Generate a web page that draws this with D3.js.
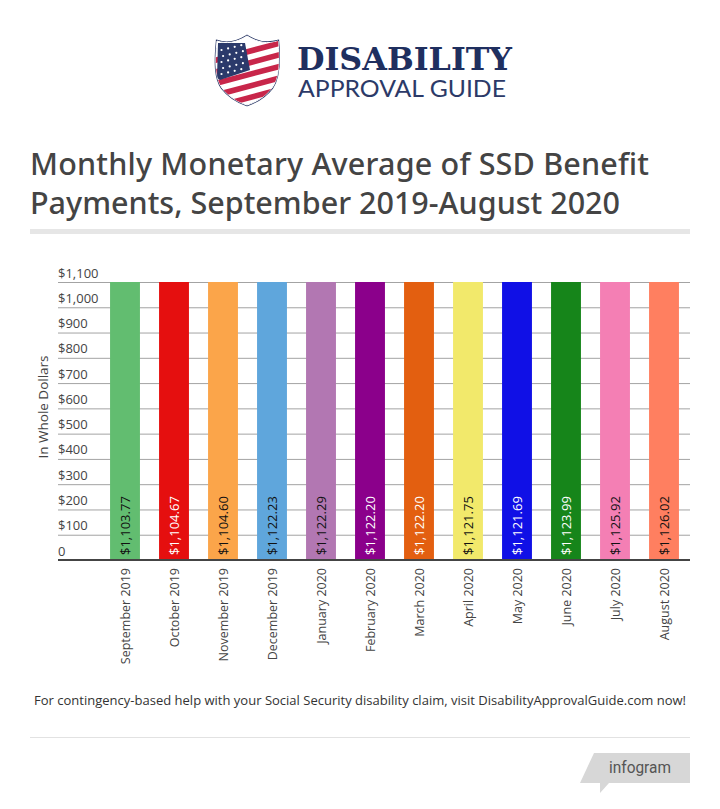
<!DOCTYPE html>
<html>
<head>
<meta charset="utf-8">
<script src="https://cdn.jsdelivr.net/npm/d3@7"></script>
<style>
  html, body { margin: 0; padding: 0; background: #fff; }
  svg { display: block; }
  text { font-family: "Open Sans", sans-serif; }
</style>
</head>
<body>
<svg id="chart" width="720" height="809"></svg>
<script>
const months = ['September 2019', 'October 2019', 'November 2019', 'December 2019', 'January 2020', 'February 2020',
  'March 2020', 'April 2020', 'May 2020', 'June 2020', 'July 2020', 'August 2020'];
const payments = [1103.77, 1104.67, 1104.60, 1122.23, 1122.29, 1122.20, 1122.20, 1121.75, 1121.69, 1123.99, 1125.92, 1126.02];
const barColors = ['#62bd70', '#e50f0f', '#fba54a', '#5fa6dc', '#b277b2', '#8b008b',
  '#e35f10', '#f2e96b', '#1010e6', '#16851a', '#f47fb4', '#ff7f60'];
const labelColors = ['#111', '#fff', '#111', '#111', '#111', '#fff', '#fff', '#111', '#fff', '#fff', '#111', '#111'];
const yTicks = [0, 100, 200, 300, 400, 500, 600, 700, 800, 900, 1000, 1100];
const titleLines = ['Monthly Monetary Average of SSD Benefit', 'Payments, September 2019-August 2020'];
const titleWidths = [619, 590];

const svg = d3.select('#chart');
const TEXT = '#444444';

// Logo
const logo = svg.append('g');
const shield = 'M217 41 C226 44 236 43 247 36 C258 43 268 44 278 41 C280 62 279 78 272 88 C265 97 256 102 247 105 C238 102 229 97 222 88 C215 78 215 62 217 41 Z';
svg.append('defs').append('clipPath').attr('id', 'shield-clip').append('path').attr('d', shield);
logo.append('path').attr('d', shield).attr('fill', '#fff').attr('stroke', '#2c3a68').attr('stroke-width', 2.4);
logo.append('path').attr('d', shield).attr('fill', '#fff').attr('stroke', '#fff').attr('stroke-width', 1);
const inner = logo.append('g').attr('clip-path', 'url(#shield-clip)');
// stripes tilted up to the right
d3.range(6).forEach(i => {
  inner.append('rect')
    .attr('x', 200).attr('y', 49 + i * 11.6).attr('width', 100).attr('height', 5.6)
    .attr('fill', '#c8264a')
    .attr('transform', `rotate(-15 247 ${49 + i * 11.6})`);
});
inner.append('path').attr('d', 'M218 43 L245 43 L250 70 L220 80 L217 78 Z').attr('fill', '#2b3a6b');
// stars on the canton, rows lean with the stripes
d3.range(5).forEach(r => d3.range(4).forEach(c => {
  inner.append('circle')
    .attr('cx', 221.5 + c * 6.6 + (r % 2) * 1.6)
    .attr('cy', 50 + r * 6 - c * 1.6)
    .attr('r', 1.1).attr('fill', '#fff');
}));

logo.append('text').text('DISABILITY')
  .attr('x', 297).attr('y', 70)
  .attr('textLength', 215).attr('lengthAdjust', 'spacingAndGlyphs')
  .style('font-family', '"DejaVu Serif", serif').style('font-weight', 700).style('font-size', '32px')
  .attr('fill', '#1f2f5f');
logo.append('text').text('APPROVAL GUIDE')
  .attr('x', 298).attr('y', 97)
  .attr('textLength', 208).attr('lengthAdjust', 'spacingAndGlyphs')
  .style('font-family', 'Lato, sans-serif').style('font-weight', 400).style('font-size', '24px')
  .attr('fill', '#2c3a68');

// Title
svg.append('g').selectAll('text').data(titleLines).join('text')
  .text(d => d)
  .attr('x', 30)
  .attr('y', (d, i) => 175 + i * 39)
  .attr('textLength', (d, i) => titleWidths[i])
  .attr('lengthAdjust', 'spacing')
  .style('font-family', '"Noto Sans", sans-serif')
  .style('font-weight', 500)
  .style('font-size', '30.5px')
  .attr('fill', TEXT);
svg.append('rect').attr('x', 30).attr('y', 229).attr('width', 660).attr('height', 5).attr('fill', '#e6e6e6');

// Scales
const x = d3.scaleBand().domain(months).range([100.5, 688.5]).paddingInner(0.39).paddingOuter(0.195);
const y = d3.scaleLinear().domain([0, 1100]).range([560, 282]).clamp(true);

// Gridlines and y labels
const grid = svg.append('g')
  .attr('transform', 'translate(58,0)')
  .call(d3.axisLeft(y).tickValues(yTicks).tickSize(-632)
    .tickFormat(d => d === 0 ? '0' : '$' + d3.format(',')(d)));
grid.select('.domain').remove();
grid.selectAll('.tick line').attr('stroke', '#a3a3a3').attr('stroke-width', 1);
grid.selectAll('.tick text')
  .attr('x', 0).attr('dy', -5).attr('text-anchor', 'start')
  .style('font-size', '13px').attr('fill', TEXT);

// Bars
const chart = svg.append('g');
chart.selectAll('rect').data(payments).join('rect')
  .attr('x', (d, i) => x(months[i]))
  .attr('y', d => y(d))
  .attr('width', x.bandwidth())
  .attr('height', d => y(0) - y(d))
  .attr('fill', (d, i) => barColors[i]);

chart.selectAll('text.value').data(payments).join('text')
  .attr('class', 'value')
  .text(d => '$' + d3.format(',.2f')(d))
  .attr('transform', (d, i) => `translate(${x(months[i]) + x.bandwidth() / 2 + 5},${y(0) - 5}) rotate(-90)`)
  .style('font-size', '13px')
  .attr('fill', (d, i) => labelColors[i]);

// Baseline and month labels
svg.append('line').attr('x1', 58).attr('x2', 690).attr('y1', 560).attr('y2', 560)
  .attr('stroke', '#444').attr('stroke-width', 2);
svg.append('g').selectAll('text').data(months).join('text')
  .text(d => d)
  .attr('text-anchor', 'end')
  .attr('transform', d => `translate(${x(d) + x.bandwidth() / 2 + 5},568) rotate(-90)`)
  .style('font-size', '12.5px')
  .attr('fill', TEXT);

// Y axis title
svg.append('text').text('In Whole Dollars')
  .attr('text-anchor', 'middle')
  .attr('transform', 'translate(48,407) rotate(-90)')
  .style('font-size', '13.5px')
  .attr('fill', TEXT);

// Footer
svg.append('text')
  .text('For contingency-based help with your Social Security disability claim, visit DisabilityApprovalGuide.com now!')
  .attr('x', 360).attr('y', 705)
  .attr('text-anchor', 'middle')
  .attr('textLength', 652).attr('lengthAdjust', 'spacingAndGlyphs')
  .style('font-size', '12.5px')
  .attr('fill', '#333');
svg.append('line').attr('x1', 30).attr('x2', 690).attr('y1', 737.5).attr('y2', 737.5).attr('stroke', '#e2e2e2');

// Infogram badge
svg.append('path').attr('d', 'M594 753 L690 753 L690 783 L609 783 L600 793 L600 783 L580 783 Z').attr('fill', '#d7d7d7');
svg.append('text').text('infogram')
  .attr('x', 609).attr('y', 773)
  .attr('textLength', 62).attr('lengthAdjust', 'spacingAndGlyphs')
  .style('font-family', 'Roboto, sans-serif').style('font-size', '17px')
  .attr('fill', '#555');
</script>
</body>
</html>
